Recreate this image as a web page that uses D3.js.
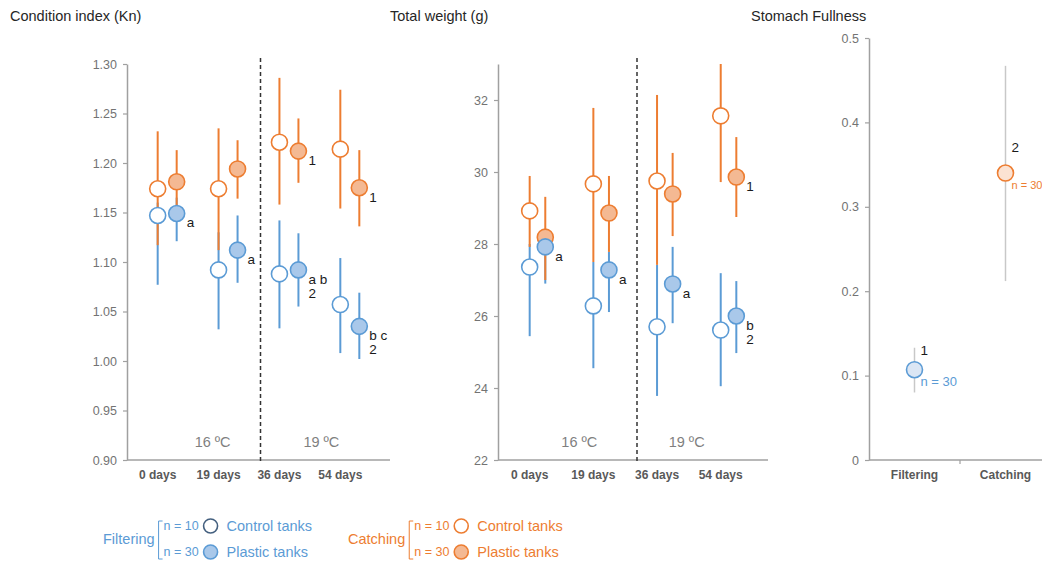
<!DOCTYPE html>
<html>
<head>
<meta charset="utf-8">
<script src="https://cdn.jsdelivr.net/npm/d3@7"></script>
<style>
  body { margin: 0; background: #fff; }
  svg { display: block; font-family: "Liberation Sans", Arial, sans-serif; }
</style>
</head>
<body>
<svg id="chart" width="1042" height="565"></svg>
<script>
"use strict";

// shared categories
var days = ["0 days", "19 days", "36 days", "54 days"];

// Condition index (Kn)
var ciFiltCtrl   = [1.147, 1.092, 1.088, 1.057];
var ciFiltCtrlLo = [1.077, 1.032, 1.033, 1.008];
var ciFiltCtrlHi = [1.160, 1.130, 1.142, 1.104];
var ciFiltPlas   = [1.149, 1.112, 1.092, 1.035];
var ciFiltPlasLo = [1.121, 1.079, 1.055, 1.002];
var ciFiltPlasHi = [1.165, 1.147, 1.129, 1.069];
var ciCatchCtrl   = [1.174, 1.174, 1.221, 1.214];
var ciCatchCtrlLo = [1.117, 1.112, 1.158, 1.154];
var ciCatchCtrlHi = [1.232, 1.235, 1.286, 1.274];
var ciCatchPlas   = [1.181, 1.194, 1.212, 1.175];
var ciCatchPlasLo = [1.150, 1.164, 1.180, 1.136];
var ciCatchPlasHi = [1.213, 1.223, 1.245, 1.213];
var ciFiltLetters  = ["a", "a", "a b|2", "b c|2"];
var ciCatchLetters = ["", "", "1", "1"];
var ciTicks = [0.90, 0.95, 1.00, 1.05, 1.10, 1.15, 1.20, 1.25, 1.30];

// Total weight (g)
var twFiltCtrl   = [27.36, 26.28, 25.70, 25.61];
var twFiltCtrlLo = [25.44, 24.55, 23.78, 24.05];
var twFiltCtrlHi = [28.00, 27.50, 27.42, 27.19];
var twFiltPlas   = [27.92, 27.28, 26.89, 26.00];
var twFiltPlasLo = [26.90, 26.11, 25.80, 24.97];
var twFiltPlasHi = [28.40, 27.78, 27.92, 26.97];
var twCatchCtrl   = [28.92, 29.67, 29.75, 31.56];
var twCatchCtrlLo = [27.92, 27.50, 27.42, 29.72];
var twCatchCtrlHi = [29.89, 31.78, 32.14, 33.00];
var twCatchPlas   = [28.19, 28.86, 29.39, 29.86];
var twCatchPlasLo = [27.00, 27.78, 28.22, 28.75];
var twCatchPlasHi = [29.31, 29.89, 30.53, 30.97];
var twFiltLetters  = ["a", "a", "a", "b|2"];
var twCatchLetters = ["", "", "", "1"];
var twTicks = [22, 24, 26, 28, 30, 32];

// Stomach fullness
var sfGroups = ["Filtering", "Catching"];
var sfMean = [0.107, 0.340];
var sfLo   = [0.080, 0.212];
var sfHi   = [0.133, 0.467];
var sfRank = ["1", "2"];
var sfN    = ["n = 30", "n = 30"];
var sfTicks = [0, 0.1, 0.2, 0.3, 0.4, 0.5];

var BLUE = "#5b9bd5", BLUE_FILL = "#a9c8ea",
    ORANGE = "#ed7d31", ORANGE_FILL = "#f4b993",
    AXIS = "#a0a0a0", TICKTXT = "#737373", CAT = "#595959";

var svg = d3.select("#chart");

// titles
svg.append("text").attr("x", 10).attr("y", 21).attr("font-size", 14.5)
  .attr("fill", "#262626").text("Condition index (Kn)");
svg.append("text").attr("x", 390).attr("y", 21).attr("font-size", 14.5)
  .attr("fill", "#262626").text("Total weight (g)");
svg.append("text").attr("x", 751).attr("y", 21).attr("font-size", 14.5)
  .attr("fill", "#262626").text("Stomach Fullness");

var DrawTimePanel = (function(o) {
    var g = svg.append("g");
    var x = d3.scalePoint().domain(days).range([o.x0, o.x1]).padding(o.pad);
    var y = d3.scaleLinear().domain(o.domain).range([460, 64]);
    var off = o.off;

    // y axis
    var ya = g.append("g").attr("transform", "translate(" + o.x0 + ",0)")
      .call(d3.axisLeft(y).tickValues(o.ticks).tickFormat(o.fmt).tickSize(4).tickSizeOuter(0).tickPadding(6));
    ya.select(".domain").attr("stroke", AXIS).attr("stroke-width", 1.5);
    ya.selectAll(".tick line").attr("stroke", AXIS).attr("stroke-width", 1.2);
    ya.selectAll(".tick text").attr("fill", TICKTXT).attr("font-size", 12.5)
      .attr("font-family", "Liberation Sans, Arial, sans-serif");

    // bottom axis line
    g.append("line").attr("x1", o.x0).attr("x2", o.x1).attr("y1", 460).attr("y2", 460)
      .attr("stroke", AXIS).attr("stroke-width", 1.5);
    g.selectAll(".cat").data(days).enter().append("text")
      .attr("x", d => x(d) - off).attr("y", 479).attr("text-anchor", "middle")
      .attr("font-size", 12).attr("font-weight", "bold").attr("fill", CAT)
      .text(d => d);

    // temperature divider
    var xd = (x(days[1]) + x(days[2])) / 2 + o.divShift;
    g.append("line").attr("x1", xd).attr("x2", xd).attr("y1", 58).attr("y2", 462)
      .attr("stroke", "#333").attr("stroke-width", 1.5).attr("stroke-dasharray", "4,3");
    g.append("text").attr("x", (x(days[0]) + x(days[1])) / 2 + o.t16Shift).attr("y", 447)
      .attr("text-anchor", "middle").attr("font-size", 14.5).attr("fill", "#7f7f7f").text("16 ºC");
    g.append("text").attr("x", (x(days[2]) + x(days[3])) / 2 + o.t19Shift).attr("y", 447)
      .attr("text-anchor", "middle").attr("font-size", 14.5).attr("fill", "#7f7f7f").text("19 ºC");

    var series = [
      { m: o.fc, lo: o.fcLo, hi: o.fcHi, dx: -off, line: BLUE, fill: "#fff" },
      { m: o.fp, lo: o.fpLo, hi: o.fpHi, dx: off,  line: BLUE, fill: BLUE_FILL },
      { m: o.cc, lo: o.ccLo, hi: o.ccHi, dx: -off, line: ORANGE, fill: "#fff" },
      { m: o.cp, lo: o.cpLo, hi: o.cpHi, dx: off,  line: ORANGE, fill: ORANGE_FILL }
    ];

    // error bars first, then the dots on top
    series.forEach(function(s) {
      g.selectAll(null).data(days).enter().append("line")
        .attr("x1", (d, i) => x(d) + s.dx).attr("x2", (d, i) => x(d) + s.dx)
        .attr("y1", (d, i) => y(s.lo[i])).attr("y2", (d, i) => y(s.hi[i]))
        .attr("stroke", s.line).attr("stroke-width", 2);
    });
    [series[2], series[3], series[0], series[1]].forEach(function(s) {
      g.selectAll(null).data(days).enter().append("circle")
        .attr("cx", (d, i) => x(d) + s.dx).attr("cy", (d, i) => y(s.m[i])).attr("r", 8)
        .attr("fill", s.fill).attr("stroke", s.line).attr("stroke-width", 1.6);
    });

    // significance letters beside the plastic-tank dots
    [[o.fp, o.fLet], [o.cp, o.cLet]].forEach(function(p) {
      days.forEach(function(d, i) {
        if (!p[1][i]) return;
        var t = g.append("text").attr("font-size", 13.5).attr("fill", "#1a1a1a")
          .attr("x", x(d) + off + 10).attr("y", y(p[0][i]) + 14);
        p[1][i].split("|").forEach(function(part, k) {
          t.append("tspan").attr("x", x(d) + off + 10).attr("dy", k ? 14 : 0).text(part);
        });
      });
    });
});

DrawTimePanel({
  x0: 127, x1: 390, pad: 0.66, off: 9.5, divShift: 2, t16Shift: 15, t19Shift: 2,
  domain: [0.9, 1.3], ticks: ciTicks, fmt: d3.format(".2f"),
  fc: ciFiltCtrl, fcLo: ciFiltCtrlLo, fcHi: ciFiltCtrlHi,
  fp: ciFiltPlas, fpLo: ciFiltPlasLo, fpHi: ciFiltPlasHi,
  cc: ciCatchCtrl, ccLo: ciCatchCtrlLo, ccHi: ciCatchCtrlHi,
  cp: ciCatchPlas, cpLo: ciCatchPlasLo, cpHi: ciCatchPlasHi,
  fLet: ciFiltLetters, cLet: ciCatchLetters
});

DrawTimePanel({
  x0: 498, x1: 768, pad: 0.62, off: 7.8, divShift: 4, t16Shift: 10, t19Shift: -10,
  domain: [22, 33], ticks: twTicks, fmt: d3.format("d"),
  fc: twFiltCtrl, fcLo: twFiltCtrlLo, fcHi: twFiltCtrlHi,
  fp: twFiltPlas, fpLo: twFiltPlasLo, fpHi: twFiltPlasHi,
  cc: twCatchCtrl, ccLo: twCatchCtrlLo, ccHi: twCatchCtrlHi,
  cp: twCatchPlas, cpLo: twCatchPlasLo, cpHi: twCatchPlasHi,
  fLet: twFiltLetters, cLet: twCatchLetters
});

// Stomach fullness panel
(function() {
  var g = svg.append("g");
  var x = d3.scaleBand().domain(sfGroups).range([869, 1051]);
  var y = d3.scaleLinear().domain([0, 0.5]).range([460, 38]);

  var ya = g.append("g").attr("transform", "translate(869,0)")
    .call(d3.axisLeft(y).tickValues(sfTicks).tickFormat(d => d === 0 ? "0" : d3.format(".1f")(d))
      .tickSize(4).tickSizeOuter(0).tickPadding(6));
  ya.select(".domain").attr("stroke", AXIS).attr("stroke-width", 1.5);
  ya.selectAll(".tick line").attr("stroke", AXIS).attr("stroke-width", 1.2);
  ya.selectAll(".tick text").attr("fill", TICKTXT).attr("font-size", 12.5)
    .attr("font-family", "Liberation Sans, Arial, sans-serif");

  g.append("line").attr("x1", 869).attr("x2", 1051).attr("y1", 460).attr("y2", 460)
    .attr("stroke", AXIS).attr("stroke-width", 1.5);
  g.selectAll(".bt").data(sfGroups).enter().append("line")
    .attr("x1", d => x(d) + x.bandwidth()).attr("x2", d => x(d) + x.bandwidth())
    .attr("y1", 460).attr("y2", 464).attr("stroke", AXIS).attr("stroke-width", 1.2);
  g.selectAll(".cat").data(sfGroups).enter().append("text")
    .attr("x", d => x(d) + x.bandwidth() / 2).attr("y", 479).attr("text-anchor", "middle")
    .attr("font-size", 12).attr("font-weight", "bold").attr("fill", CAT).text(d => d);

  var cols = [[BLUE, "#dbe6f4"], [ORANGE, "#fbe2d2"]];
  sfGroups.forEach(function(d, i) {
    var cx = x(d) + x.bandwidth() / 2;
    g.append("line").attr("x1", cx).attr("x2", cx).attr("y1", y(sfLo[i])).attr("y2", y(sfHi[i]))
      .attr("stroke", "#c8c8c8").attr("stroke-width", 1.5);
    g.append("circle").attr("cx", cx).attr("cy", y(sfMean[i])).attr("r", 8)
      .attr("fill", cols[i][1]).attr("stroke", cols[i][0]).attr("stroke-width", 1.6);
    g.append("text").attr("x", cx + 6).attr("y", y(sfMean[i]) - (i ? 21 : 15)).attr("font-size", 13.5)
      .attr("fill", "#1a1a1a").text(sfRank[i]);
    g.append("text").attr("x", cx + 6).attr("y", y(sfMean[i]) + 16).attr("font-size", i ? 11 : 13)
      .attr("fill", cols[i][0]).text(sfN[i]);
  });
})();

// legend
var DrawLegend = (function(x, label, color, ctrlStroke, fill) {
  var g = svg.append("g");
  var lab = g.append("text").attr("x", x).attr("y", 544).attr("font-size", 14.5)
    .attr("fill", color).text(label);
  var bx = x + lab.node().getComputedTextLength() + 4;
  g.append("path").attr("d", "M" + (bx + 4) + ",521H" + bx + "V559H" + (bx + 4))
    .attr("fill", "none").attr("stroke", color).attr("stroke-width", 1);
  [["n = 10", ctrlStroke, "#fff", "Control tanks", 526], ["n = 30", color, fill, "Plastic tanks", 552]]
    .forEach(function(r) {
      g.append("text").attr("x", bx + 5).attr("y", r[4] + 4).attr("font-size", 12.5).attr("fill", color).text(r[0]);
      g.append("circle").attr("cx", bx + 52).attr("cy", r[4]).attr("r", 7)
        .attr("fill", r[2]).attr("stroke", r[1]).attr("stroke-width", 1.6);
      g.append("text").attr("x", bx + 68).attr("y", r[4] + 5).attr("font-size", 14.5).attr("fill", color).text(r[3]);
    });
});
DrawLegend(103, "Filtering", BLUE, "#44607f", BLUE_FILL);
DrawLegend(348, "Catching", ORANGE, ORANGE, ORANGE_FILL);
</script>
</body>
</html>
